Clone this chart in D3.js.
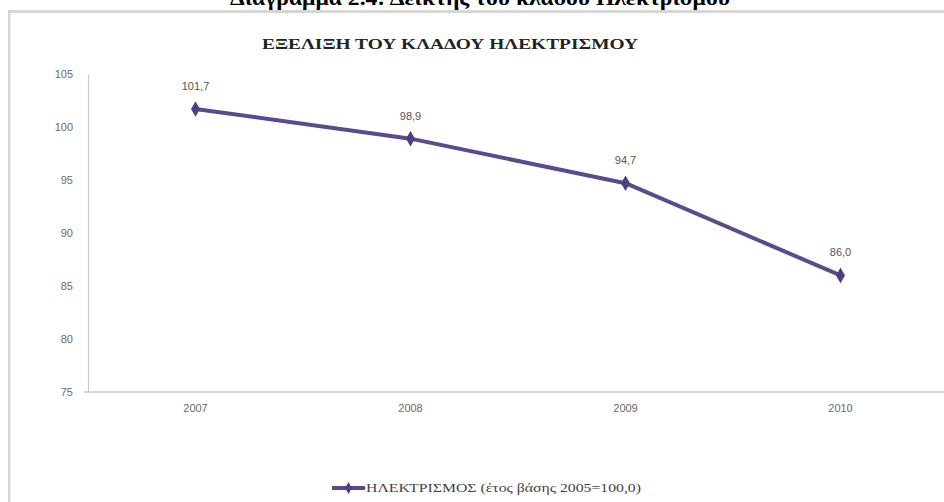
<!DOCTYPE html>
<html>
<head>
<meta charset="utf-8">
<script src="https://cdn.jsdelivr.net/npm/d3@7"></script>
<style>
  html, body { margin: 0; padding: 0; background: #fff; }
  svg { display: block; }
</style>
</head>
<body>
<svg id="chart" width="944" height="502"></svg>
<script>
const pageTitle = "Διάγραμμα 2.4: Δείκτης του κλάδου Ηλεκτρισμού";
const chartTitle = "ΕΞΕΛΙΞΗ ΤΟΥ ΚΛΑΔΟΥ ΗΛΕΚΤΡΙΣΜΟΥ";
const seriesName = "ΗΛΕΚΤΡΙΣΜΟΣ (έτος βάσης 2005=100,0)";
const years = ["2007", "2008", "2009", "2010"];
const values = [101.7, 98.9, 94.7, 86.0];
const yTicks = [75, 80, 85, 90, 95, 100, 105];

const svg = d3.select("#chart");
const lineColor = "#5b4a8f";

// page title (cut off at top, as in the reference)
svg.append("text")
  .attr("x", 480).attr("y", 5)
  .attr("text-anchor", "middle")
  .attr("font-family", "'Liberation Serif', 'DejaVu Serif', serif")
  .attr("font-weight", "bold")
  .attr("font-size", 22)
  .attr("textLength", 500)
  .attr("lengthAdjust", "spacingAndGlyphs")
  .attr("fill", "#000")
  .text(pageTitle);

// chart frame
svg.append("rect").attr("x", 8).attr("y", 10).attr("width", 936).attr("height", 3).attr("fill", "#d6d6d6");
svg.append("rect").attr("x", 8).attr("y", 10).attr("width", 2.5).attr("height", 492).attr("fill", "#d6d6d6");

// chart title
svg.append("text")
  .attr("x", 450).attr("y", 49)
  .attr("text-anchor", "middle")
  .attr("font-family", "'Liberation Serif', 'DejaVu Serif', serif")
  .attr("font-weight", "bold")
  .attr("font-size", 14)
  .attr("textLength", 376)
  .attr("lengthAdjust", "spacingAndGlyphs")
  .attr("fill", "#222")
  .text(chartTitle);

const x = d3.scaleBand().domain(years).range([88, 948]);
const y = d3.scaleLinear().domain([75, 105]).range([392, 74]);

// y axis
const yAxis = d3.axisLeft(y).tickValues(yTicks).tickSize(0).tickPadding(15).tickFormat(d3.format("d"));
const gy = svg.append("g").attr("transform", "translate(88,0)").call(yAxis);
gy.select(".domain").attr("stroke", "#c8c8c8").attr("stroke-width", 1.2);
gy.selectAll("text")
  .attr("font-family", "'Liberation Sans', 'DejaVu Sans', sans-serif")
  .attr("font-size", 11).attr("fill", "#6a6a6a");

// x axis
const xAxis = d3.axisBottom(x).tickSize(0).tickPadding(12);
const gx = svg.append("g").attr("transform", "translate(0,392)").call(xAxis);
gx.select(".domain").attr("stroke", "#c8c8c8").attr("stroke-width", 1.5).attr("d", "M84,0H948");
gx.selectAll("text")
  .attr("font-family", "'Liberation Sans', 'DejaVu Sans', sans-serif")
  .attr("font-size", 11).attr("fill", "#6a6a6a");

const data = years.map((yr, i) => ({ yr, v: values[i] }));
const cx = d => x(d.yr) + x.bandwidth() / 2;

svg.append("path")
  .datum(data)
  .attr("fill", "none")
  .attr("stroke", lineColor)
  .attr("stroke-width", 4)
  .attr("stroke-linejoin", "round")
  .attr("d", d3.line().x(cx).y(d => y(d.v)));

const diamond = d3.symbol().type(d3.symbolDiamond).size(70);
svg.selectAll(".mk").data(data).enter().append("path")
  .attr("transform", d => `translate(${cx(d)},${y(d.v)})`)
  .attr("d", diamond)
  .attr("fill", "#4f3f80");

const fmt = v => v.toFixed(1).replace(".", ",");
svg.selectAll(".lbl").data(data).enter().append("text")
  .attr("x", cx).attr("y", d => y(d.v) - 19)
  .attr("text-anchor", "middle")
  .attr("font-family", "'Liberation Sans', 'DejaVu Sans', sans-serif")
  .attr("font-size", 11).attr("fill", "#555")
  .text(d => fmt(d.v));

// legend
const lg = svg.append("g");
lg.append("line").attr("x1", 332).attr("x2", 365).attr("y1", 488).attr("y2", 488)
  .attr("stroke", lineColor).attr("stroke-width", 4);
lg.append("path").attr("transform", "translate(348.5,488)").attr("d", d3.symbol().type(d3.symbolDiamond).size(40)).attr("fill", "#4f3f80");
lg.append("text").attr("x", 366).attr("y", 492)
  .attr("font-family", "'Liberation Serif', 'DejaVu Serif', serif")
  .attr("font-size", 12)
  .attr("textLength", 275)
  .attr("lengthAdjust", "spacingAndGlyphs")
  .attr("fill", "#444")
  .text(seriesName);
</script>
</body>
</html>
